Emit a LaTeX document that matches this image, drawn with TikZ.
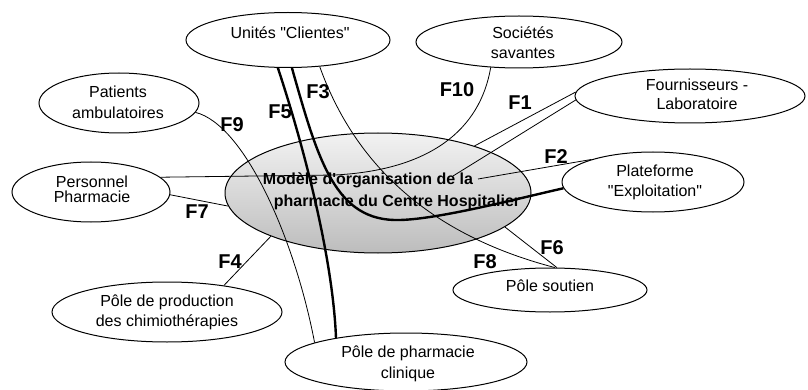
\documentclass[tikz,border=0pt]{standalone}
\usepackage{fontspec}
\setmainfont{Liberation Sans}[Ligatures=TeXOff]
\usetikzlibrary{shapes.geometric}
\begin{document}
\begin{tikzpicture}[x=1pt,y=-1pt,
  bub/.style={ellipse,draw,line width=1pt,fill=white,inner sep=0pt},
  txt/.style={font=\fontsize{16}{20}\selectfont,align=center,inner sep=0pt},
  flab/.style={font=\fontsize{20}{24}\selectfont\bfseries,inner sep=0pt},
  ctxt/.style={font=\fontsize{16}{22}\selectfont\bfseries,inner sep=0pt,anchor=base},
  conn/.style={line width=0.8pt},
  heavy/.style={line width=2.4pt}]
\useasboundingbox (0,0) rectangle (808,390);

% bubbles
\node[bub,minimum width=204,minimum height=55] (U) at (288,40) {};
\node[bub,minimum width=206,minimum height=52] (S) at (519,42) {};
\node[bub,minimum width=230,minimum height=54] (Fo) at (690,96) {};
\node[bub,minimum width=182,minimum height=60] (Pl) at (653,182) {};
\node[bub,minimum width=194,minimum height=44] (PS) at (550,290) {};
\node[bub,minimum width=160,minimum height=60] (Pa) at (119,103) {};
\node[bub,minimum width=158,minimum height=60] (Pe) at (91,192) {};
\node[bub,minimum width=230,minimum height=60] (Pr) at (167,312) {};
\node[bub,minimum width=242,minimum height=58] (Cl) at (406,362) {};
\node[ellipse,draw,line width=1pt,inner sep=0pt,top color=gray!10,bottom color=gray!52,
      minimum width=306,minimum height=120] (C) at (378,193) {};

% texts in bubbles
\node[txt] (Ut) at (290,33) {Unités "Clientes"};
\node[txt] (St) at (523,43) {Sociétés\\savantes};
\node[txt,font=\fontsize{16}{19}\selectfont] (Fot) at (697,94) {Fournisseurs -\\Laboratoire};
\node[txt] (Plt) at (655,182) {Plateforme\\"Exploitation"};
\node[txt] (PSt) at (550,286) {Pôle soutien};
\node[txt,font=\fontsize{16}{21}\selectfont] (Pat) at (118,102) {Patients\\ambulatoires};
\node[txt,font=\fontsize{16}{15}\selectfont] (Pet) at (92,189) {Personnel\\Pharmacie};
\node[txt] (Prt) at (167,312) {Pôle de production\\des chimiothérapies};
\node[txt,font=\fontsize{16}{21}\selectfont] (Clt) at (408,364) {Pôle de pharmacie\\clinique};

% connectors
\coordinate (f1e) at (453,176);
\coordinate (f2e) at (478,179);
\draw[conn] (Fo.178) -- (C.26);
\draw[conn] (Fo.182) -- (f1e);
\draw[conn] (Pl.160) -- (f2e);
\draw[heavy] (U.-82) .. controls (318,160) and (335,222) .. (400,220)
             .. controls (440,219) and (520,198) .. (Pl.184);
\draw[heavy] (U.-110) .. controls (305,150) and (333,260) .. (Cl.161);
\draw[conn] (U.-40) .. controls (355,165) and (430,235) .. (PS.78);
\draw[conn] (C.-15) -- (PS.73);
\draw[conn] (Pe.12) -- (335,175) .. controls (430,170) and (480,130) .. (S.-138);
\draw[conn] (Pe.-2) -- (C.185);
\draw[conn] (Pr.25) -- (C.202);
\draw[conn] (Pa.-7) .. controls (245,125) and (295,240) .. (Cl.168);

% central text
\node[ctxt] (Ct1) at (368,185) {Modèle d'organisation de la};
\node[ctxt] (Ct2) at (397,207) {pharmacie du Centre Hospitalier};

% flow labels
\node[flab] (L10) at (457,90) {F10};
\node[flab] (L1) at (520,103) {F1};
\node[flab] (L2) at (556,157) {F2};
\node[flab] (L3) at (318,92) {F3};
\node[flab] (L5) at (280,112) {F5};
\node[flab] (L9) at (232,125) {F9};
\node[flab] (L7) at (197,212) {F7};
\node[flab] (L4) at (230,262) {F4};
\node[flab] (L8) at (485,262) {F8};
\node[flab] (L6) at (552,248) {F6};
\end{tikzpicture}
\end{document}
